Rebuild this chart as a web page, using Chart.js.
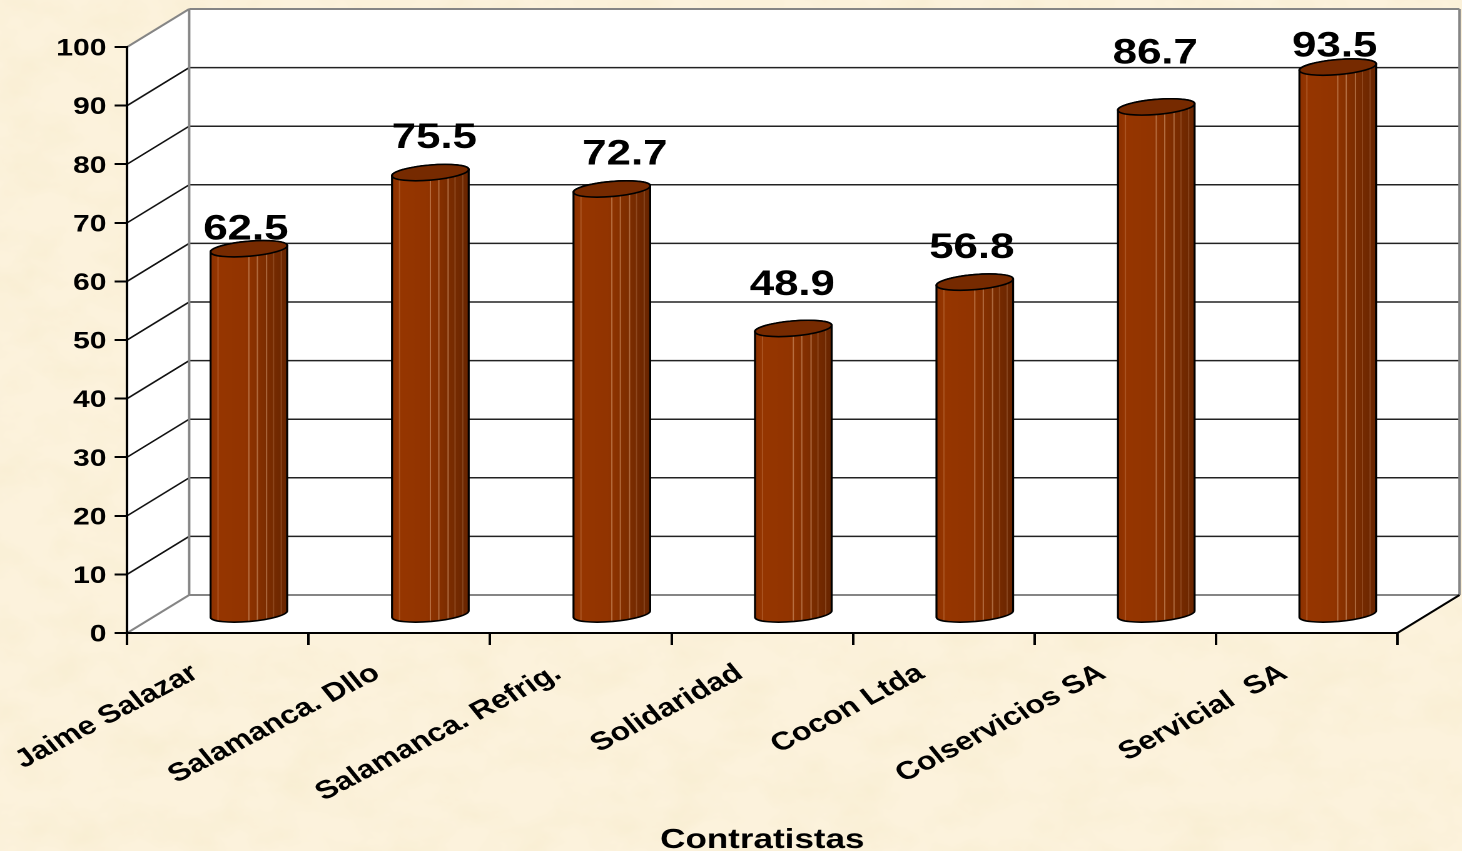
<!DOCTYPE html>
<html>
<head>
<meta charset="utf-8">
<title>Contratistas</title>
<script src="https://cdn.jsdelivr.net/npm/chart.js@4/dist/chart.umd.min.js"></script>
<style>
    html, body { margin: 0; width: 1462px; height: 851px; overflow: hidden; background: #faefd6; }
    #paper { position: absolute; left: 0; top: 0; }
    #chart { position: absolute; left: 0; top: 0; transform-origin: 0 0; }
</style>
</head>
<body>
<svg id="paper" width="1462" height="851">
    <filter id="mottle" x="0" y="0" width="100%" height="100%">
        <feTurbulence type="fractalNoise" baseFrequency="0.018 0.026" numOctaves="4" seed="7"/>
        <feColorMatrix values="0 0 0 0 0.93  0 0 0 0 0.84  0 0 0 0 0.62  1.3 0 0 0 -0.5"/>
    </filter>
    <rect width="1462" height="851" fill="#fcf2dc"/>
    <rect width="1462" height="851" filter="url(#mottle)"/>
</svg>
<canvas id="chart"></canvas>
<script>
// ── DATA ──
const contractors = ['Jaime Salazar', 'Salamanca. Dllo', 'Salamanca. Refrig.', 'Solidaridad', 'Cocon Ltda', 'Colservicios SA', 'Servicial  SA'];
const values = [62.5, 75.5, 72.7, 48.9, 56.8, 86.7, 93.5];
const axisTitle = 'Contratistas';

// ── LOOK ──
// the original picture is a chart stretched sideways, so the canvas is too
const STRETCH = 1.25;
const DEPTH_X = 62 / STRETCH;
const DEPTH_Y = -38;
// label nudges, the labels do not sit at one fixed distance above the bars
const labelShiftX = [-3, 4, 13, -1, -3, -1, -3];
const labelShiftY = [18, 33, 33, 42, 33, 52, 19];

const canvas = document.getElementById('chart');
canvas.width = 1462 / STRETCH;
canvas.height = 851;
canvas.style.width = (1462 / STRETCH) + 'px';
canvas.style.height = '851px';
canvas.style.transform = 'scaleX(' + STRETCH + ')';

function line(ctx, x1, y1, x2, y2, color, width) {
    ctx.beginPath();
    ctx.moveTo(x1, y1);
    ctx.lineTo(x2, y2);
    ctx.strokeStyle = color;
    ctx.lineWidth = width;
    ctx.stroke();
}

// ── 3D WALLS ──
const wallsPlugin = {
    id: 'walls',
    beforeDraw(chart) {
        const { ctx, scales: { x, y } } = chart;
        const left = x.left, right = x.right;
        const y0 = y.getPixelForValue(0), y100 = y.getPixelForValue(100);

        ctx.save();
        ctx.fillStyle = '#fff';
        ctx.beginPath();
        ctx.moveTo(left, y100);
        ctx.lineTo(left + DEPTH_X, y100 + DEPTH_Y);
        ctx.lineTo(right + DEPTH_X, y100 + DEPTH_Y);
        ctx.lineTo(right + DEPTH_X, y0 + DEPTH_Y);
        ctx.lineTo(right, y0);
        ctx.lineTo(left, y0);
        ctx.closePath();
        ctx.fill();

        y.ticks.forEach(t => {
            if (t.value === 0 || t.value === 100) return;
            const py = y.getPixelForValue(t.value);
            line(ctx, left, py, left + DEPTH_X, py + DEPTH_Y, '#111', 1.5);
            line(ctx, left + DEPTH_X, py + DEPTH_Y, right + DEPTH_X, py + DEPTH_Y, '#222', 1.5);
        });

        const gray = '#858585';
        line(ctx, left, y100, left + DEPTH_X, y100 + DEPTH_Y, gray, 2);
        line(ctx, left + DEPTH_X, y100 + DEPTH_Y, right + DEPTH_X, y100 + DEPTH_Y, gray, 2);
        line(ctx, left + DEPTH_X, y100 + DEPTH_Y, left + DEPTH_X, y0 + DEPTH_Y, gray, 2);
        line(ctx, right + DEPTH_X, y100 + DEPTH_Y, right + DEPTH_X, y0 + DEPTH_Y, gray, 2);
        line(ctx, left, y0, left + DEPTH_X, y0 + DEPTH_Y, gray, 2);
        line(ctx, left + DEPTH_X, y0 + DEPTH_Y, right + DEPTH_X, y0 + DEPTH_Y, gray, 2);
        line(ctx, right, y0, right + DEPTH_X, y0 + DEPTH_Y, '#000', 2);
        ctx.restore();
    }
};

// ── CYLINDERS ──
function drawCylinder(ctx, cx, top, base, rx) {
    const ry = 7.5;
    const tilt = -Math.atan(Math.tan(5 * Math.PI / 180) * STRETCH);
    const left = cx - rx, w = rx * 2;

    const side = ctx.createLinearGradient(left, 0, left + w, 0);
    side.addColorStop(0, '#8a3000');
    side.addColorStop(0.1, '#963600');
    side.addColorStop(0.45, '#923400');
    side.addColorStop(0.62, '#853000');
    side.addColorStop(0.8, '#772b00');
    side.addColorStop(1, '#682500');

    ctx.beginPath();
    ctx.ellipse(cx, base, rx, ry, tilt, Math.PI, 0, true);
    ctx.ellipse(cx, top, rx, ry, tilt, 0, Math.PI, true);
    ctx.closePath();
    ctx.fillStyle = side;
    ctx.fill();

    // facet lines, clipped to the body
    ctx.save();
    ctx.clip();
    [0.1, 0.5, 0.61, 0.73, 0.82, 0.92].forEach((f, i) => {
        const alpha = i === 0 ? 0.22 : (i < 4 ? 0.42 : 0.2);
        line(ctx, left + w * f, top - 20, left + w * f, base + 20, 'rgba(240,190,150,' + alpha + ')', 1);
    });
    ctx.restore();

    ctx.beginPath();
    ctx.ellipse(cx, base, rx, ry, tilt, Math.PI, 0, true);
    ctx.ellipse(cx, top, rx, ry, tilt, 0, Math.PI, true);
    ctx.closePath();
    ctx.strokeStyle = '#000';
    ctx.lineWidth = 1.6;
    ctx.stroke();

    ctx.beginPath();
    ctx.ellipse(cx, top, rx, ry, tilt, 0, Math.PI * 2);
    ctx.fillStyle = '#762a00';
    ctx.fill();
    ctx.stroke();
}

const cylinderPlugin = {
    id: 'cylinders',
    afterDatasetsDraw(chart) {
        const { ctx } = chart;
        const bars = chart.getDatasetMeta(0).data;
        const sink = DEPTH_Y / 2 + 1;
        ctx.save();
        bars.forEach(bar => {
            drawCylinder(ctx, bar.x + DEPTH_X / 2, bar.y + sink, bar.base + sink, bar.width / 2);
        });
        // data labels go on top of everything
        ctx.font = 'bold 35px "Liberation Sans"';
        ctx.fillStyle = '#000';
        ctx.textAlign = 'center';
        ctx.textBaseline = 'middle';
        bars.forEach((bar, i) => {
            const px = bar.x + DEPTH_X / 2 + labelShiftX[i] / STRETCH;
            const py = bar.y + DEPTH_Y / 2 - labelShiftY[i];
            ctx.fillText(values[i].toFixed(1), px, py);
        });
        ctx.restore();
    }
};

// ── CHART SETUP ──
new Chart(canvas, {
    type: 'bar',
    data: {
        labels: contractors,
        datasets: [{
            data: values,
            backgroundColor: 'rgba(0,0,0,0)',
            borderWidth: 0,
            barPercentage: 0.425,
            categoryPercentage: 1
        }]
    },
    options: {
        responsive: false,
        animation: false,
        devicePixelRatio: 2,
        layout: {
            padding: { top: 47, right: (1462 - 1397) / STRETCH, bottom: 0, left: 0 }
        },
        plugins: {
            legend: { display: false },
            tooltip: { enabled: false }
        },
        scales: {
            x: {
                afterFit(scale) { scale.height = 851 - 633; },
                title: {
                    display: true,
                    text: axisTitle,
                    color: '#000',
                    font: { family: 'Liberation Sans', size: 28, weight: 'bold' },
                    padding: { top: 0, bottom: -6 }
                },
                border: { color: '#000', width: 2 },
                grid: { drawOnChartArea: false, color: '#000', lineWidth: 2, tickLength: 12 },
                ticks: {
                    color: '#000',
                    font: { family: 'Liberation Sans', size: 25.5, weight: 'bold' },
                    autoSkip: false,
                    minRotation: 33,
                    maxRotation: 33,
                    padding: 13,
                    labelOffset: -18
                }
            },
            y: {
                min: 0,
                max: 100,
                afterFit(scale) { scale.width = 127 / STRETCH; },
                border: { color: '#000', width: 2 },
                grid: { drawOnChartArea: false, color: '#000', lineWidth: 2, tickLength: 10 },
                ticks: {
                    stepSize: 10,
                    color: '#000',
                    font: { family: 'Liberation Sans', size: 24, weight: 'bold' },
                    padding: 6.5,
                    labelOffset: 2
                }
            }
        }
    },
    plugins: [wallsPlugin, cylinderPlugin]
});
</script>
</body>
</html>
